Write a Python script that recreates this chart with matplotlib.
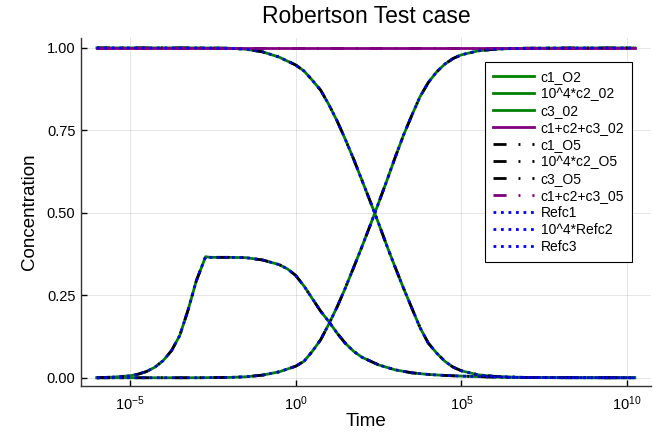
import matplotlib
matplotlib.use("Agg")
import matplotlib.pyplot as plt
from matplotlib.ticker import FixedLocator, NullLocator
import numpy as np

plt.rcParams['font.family'] = ['Liberation Sans', 'DejaVu Sans']

# log10(time), c1 / c3 curves
logt_c13 = [-6, -3, -2, -1.5, -1, -0.5, 0, 0.25, 0.5, 0.75, 1.0, 1.25, 1.5,
            1.75, 2.0, 2.25, 2.5, 2.75, 3.0, 3.25, 3.5, 3.75, 4.0, 4.25, 4.5,
            4.75, 5.0, 5.5, 6.0, 6.5, 7.0, 8.0, 10.23]
c1 = [1.0, 1.0, 0.999, 0.996, 0.988, 0.972, 0.948, 0.93, 0.902, 0.872, 0.828,
      0.778, 0.722, 0.662, 0.598, 0.534, 0.468, 0.40, 0.335, 0.272, 0.212,
      0.152, 0.105, 0.075, 0.050, 0.032, 0.021, 0.009, 0.004, 0.002, 0.001,
      0.0003, 0.0]
c3 = [0.0, 0.0, 0.001, 0.003, 0.008, 0.018, 0.035, 0.05, 0.08, 0.115, 0.163,
      0.215, 0.273, 0.335, 0.398, 0.463, 0.53, 0.598, 0.668, 0.735, 0.795,
      0.852, 0.895, 0.927, 0.951, 0.968, 0.979, 0.991, 0.996, 0.998, 0.999,
      0.9997, 1.0]

# 10^4 * c2
logt_c2 = [-6, -5.5, -5, -4.75, -4.5, -4.25, -4.0, -3.75, -3.5, -3.25, -3.0,
           -2.72, -2.59, -2, -1.5, -1, -0.5, -0.25, 0, 0.25, 0.5, 0.75, 1.0,
           1.25, 1.5, 1.75, 2.0, 2.5, 3.0, 3.5, 4.0, 4.5, 5.0, 6.0, 7.0, 8.0,
           10.23]
c2x = [0.0, 0.002, 0.006, 0.011, 0.019, 0.032, 0.052, 0.082, 0.128, 0.205,
       0.294, 0.367, 0.365, 0.365, 0.364, 0.357, 0.343, 0.33, 0.31, 0.278,
       0.24, 0.202, 0.17, 0.135, 0.104, 0.08, 0.062, 0.039, 0.024, 0.015,
       0.01, 0.007, 0.005, 0.002, 0.0006, 0.0002, 0.0]

# c1 + c2 + c3
logt_sum = [-6, 10.23]
csum = [1.0, 1.0]

t_c13 = 10.0 ** np.array(logt_c13)
t_c2 = 10.0 ** np.array(logt_c2)
t_sum = 10.0 ** np.array(logt_sum)

green = '#008000'
purple = '#800080'
dashdot = (0, (4.7, 4.3, 0.7, 4.3))
dotted = (0, (1.0, 1.7))

fig = plt.figure(figsize=(6.64, 4.43), dpi=100)
ax = fig.add_axes([81/664, 1-386/443, 570/664, 348/443])

ax.plot(t_c13, c1, color=green, lw=2, label='c1_O2')
ax.plot(t_c2, c2x, color=green, lw=2, label='10^4*c2_02')
ax.plot(t_c13, c3, color=green, lw=2, label='c3_02')
ax.plot(t_sum, csum, color=purple, lw=2, label='c1+c2+c3_02')
ax.plot(t_c13, c1, color='black', lw=2, ls=dashdot, label='c1_O5')
ax.plot(t_c2, c2x, color='black', lw=2, ls=dashdot, label='10^4*c2_O5')
ax.plot(t_c13, c3, color='black', lw=2, ls=dashdot, label='c3_O5')
ax.plot(t_sum, csum, color=purple, lw=2, ls=dashdot, label='c1+c2+c3_05')
ax.plot(t_c13, c1, color='blue', lw=2, ls=dotted, label='Refc1')
ax.plot(t_c2, c2x, color='blue', lw=2, ls=dotted, label='10^4*Refc2')
ax.plot(t_c13, c3, color='blue', lw=2, ls=dotted, label='Refc3')

ax.set_xscale('log')
ax.set_xlim(10**-6.48, 10**10.72)
ax.set_ylim(-0.025, 1.03)
ax.xaxis.set_major_locator(FixedLocator([1e-5, 1, 1e5, 1e10]))
ax.xaxis.set_minor_locator(NullLocator())
ax.set_yticks([0, 0.25, 0.5, 0.75, 1.0])
ax.set_yticklabels(['0.00', '0.25', '0.50', '0.75', '1.00'])
ax.tick_params(direction='in', length=4, width=1, labelsize=10.5, colors='black')
ax.tick_params(axis='x', pad=6)
ax.tick_params(axis='y', pad=4)
ax.grid(True, color='black', alpha=0.1, lw=0.7)

for s in ['top', 'right']:
    ax.spines[s].set_visible(False)
for s in ['left', 'bottom']:
    ax.spines[s].set_color('#333333')
    ax.spines[s].set_linewidth(1)

ax.set_xlabel('Time', fontsize=13.5, labelpad=0)
ax.set_ylabel('Concentration', fontsize=13.5, labelpad=6)
ax.set_title('Robertson Test case', fontsize=16.5, pad=11)

leg = ax.legend(loc='upper right', bbox_to_anchor=(632/664, 1-62/443),
                bbox_transform=fig.transFigure, fontsize=10, frameon=True,
                fancybox=False, edgecolor='black', framealpha=1,
                handlelength=3.0, handletextpad=0.45, labelspacing=0.22,
                borderpad=0.55, borderaxespad=0)
leg.get_frame().set_linewidth(0.8)

fig.savefig('out.png', dpi=100)
